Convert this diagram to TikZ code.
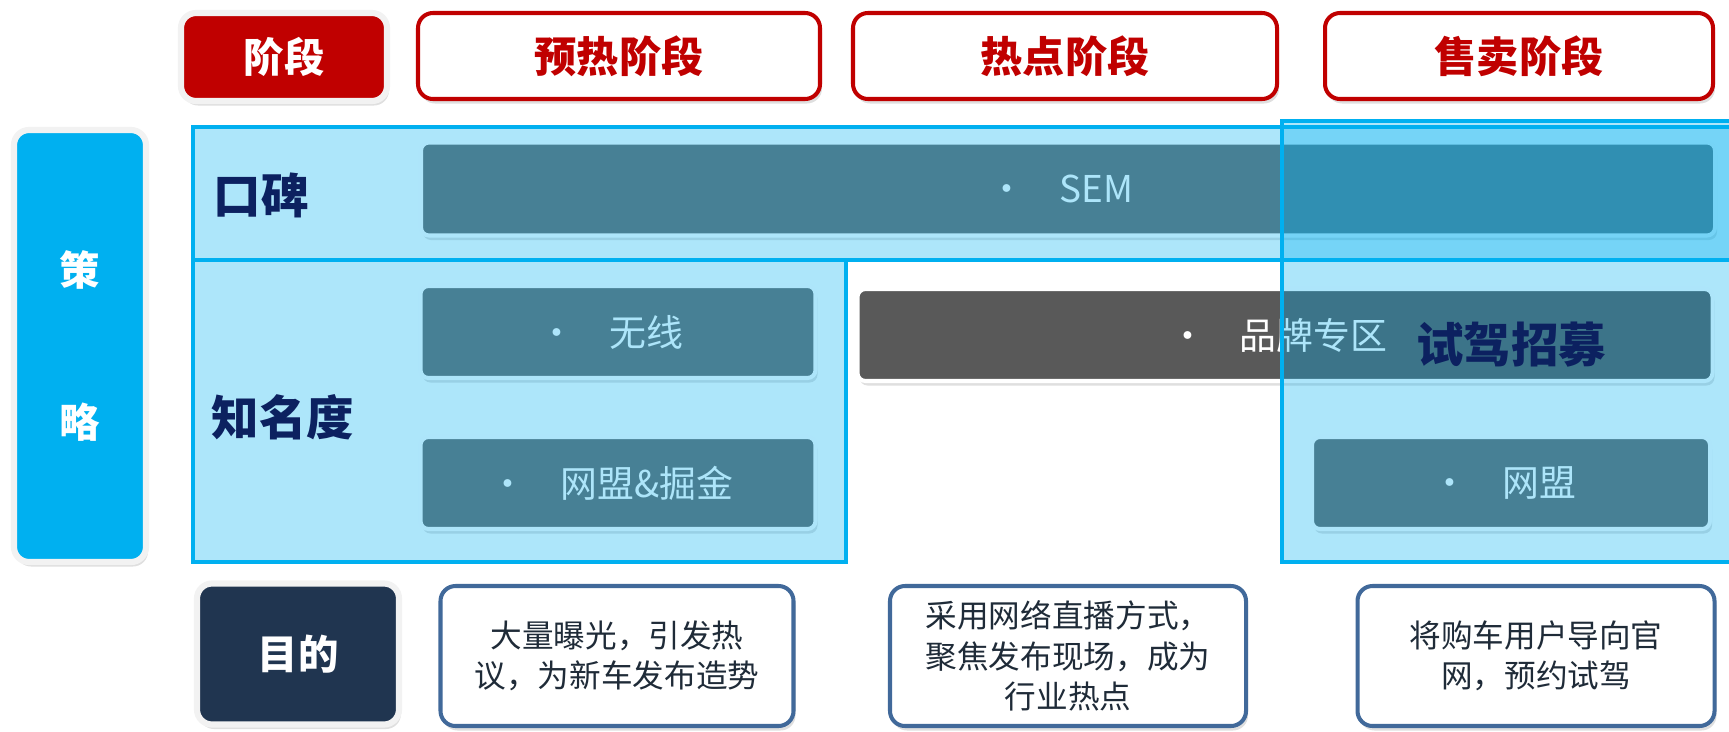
\documentclass[tikz,border=0pt]{standalone}
\usepackage{fontspec}
\setmainfont{Noto Sans CJK SC}
\usetikzlibrary{shadows}

\definecolor{stagered}{HTML}{C00000}
\definecolor{skyblue}{HTML}{00B0F0}
\definecolor{boxgray}{HTML}{6A6A6A}
\definecolor{darkgray}{HTML}{595959}
\definecolor{halo}{HTML}{F2F2F2}
\definecolor{zonenavy}{HTML}{0C2160}
\definecolor{aimnavy}{HTML}{203550}
\definecolor{aimblue}{HTML}{41699A}
\definecolor{aimtext}{HTML}{1F2B38}

\newcommand\itemdot{\makebox[2mm]{•}\hspace{9.5mm}}

\tikzset{
  size/.style 2 args={minimum width=#1*0.2mm, minimum height=#2*0.2mm, inner sep=0pt},
  softshadow/.style={drop shadow={shadow xshift=0.4mm, shadow yshift=-0.9mm, opacity=0.25}},
  headbox/.style={draw=stagered, line width=2.3pt, fill=white, rounded corners=3mm,
    text=stagered, font=\bfseries\fontsize{24}{24}\selectfont, softshadow},
  titlebox/.style={draw=halo, line width=3.5pt, rounded corners=3mm,
    text=white, font=\bfseries\fontsize{23}{23}\selectfont, softshadow},
  itembox/.style={draw=white, line width=2.3pt, fill=boxgray, rounded corners=1.6mm,
    text=white, font=\fontsize{21}{21}\selectfont, softshadow},
  zone/.style={draw=skyblue, line width=2.3pt, fill=skyblue, fill opacity=0.32},
  zonelabel/.style={text=zonenavy, font=\bfseries\fontsize{27}{27}\selectfont},
  aimbox/.style={draw=aimblue, line width=2.3pt, fill=white, rounded corners=3mm,
    text=aimtext, align=center, font=\fontsize{18}{23}\selectfont, softshadow}
}

\begin{document}
\begin{tikzpicture}[x=0.2mm, y=-0.2mm]
  \useasboundingbox (0,0) rectangle (1729,731);

  % Stages
  \node[titlebox, fill=stagered, size={206}{88}] (stage) at (284,57) {阶段};
  \node[headbox, size={402}{86}] (warm) at (619,56) {预热阶段};
  \node[headbox, size={424}{86}] (hot) at (1065,56) {热点阶段};
  \node[headbox, size={388}{86}] (sale) at (1519,56) {售卖阶段};

  % Strategy
  \node[titlebox, fill=skyblue, size={132}{432}, align=center,
    font=\bfseries\fontsize{23}{86}\selectfont] (strategy) at (80,346) {策\\略};

  % Items
  \node[itembox, size={1294}{93}] (sem) at (1068,189) {\itemdot SEM};
  \node[itembox, size={395}{92}] (wireless) at (618,332) {\itemdot 无线};
  \node[itembox, size={395}{92}] (union) at (618,483) {\itemdot 网盟\&掘金};
  \node[itembox, fill=darkgray, size={855}{92}] (brand) at (1285,335) {\itemdot 品牌专区};
  \node[itembox, size={398}{92}] (union2) at (1511,483) {\itemdot 网盟};

  % Zones
  \draw[zone] (193,127) rectangle (1735,260);
  \draw[zone] (193,260) rectangle (846,562);
  \draw[zone] (1282,121) rectangle (1735,562);
  \node[zonelabel] (praise) at (261,195) {口碑};
  \node[zonelabel] (fame) at (283,417) {知名度};
  \node[zonelabel] (drive) at (1511,345) {试驾招募};

  % Aims
  \node[titlebox, fill=aimnavy, size={202}{141}] (aim) at (298,654) {目的};
  \node[aimbox, size={353}{140}] (aim1) at (617,656) {大量曝光，引发热\\议，为新车发布造势};
  \node[aimbox, size={356}{140}] (aim2) at (1068,656) {采用网络直播方式，\\聚焦发布现场，成为\\行业热点};
  \node[aimbox, size={357}{140}] (aim3) at (1536,656) {将购车用户导向官\\网，预约试驾};
\end{tikzpicture}
\end{document}
